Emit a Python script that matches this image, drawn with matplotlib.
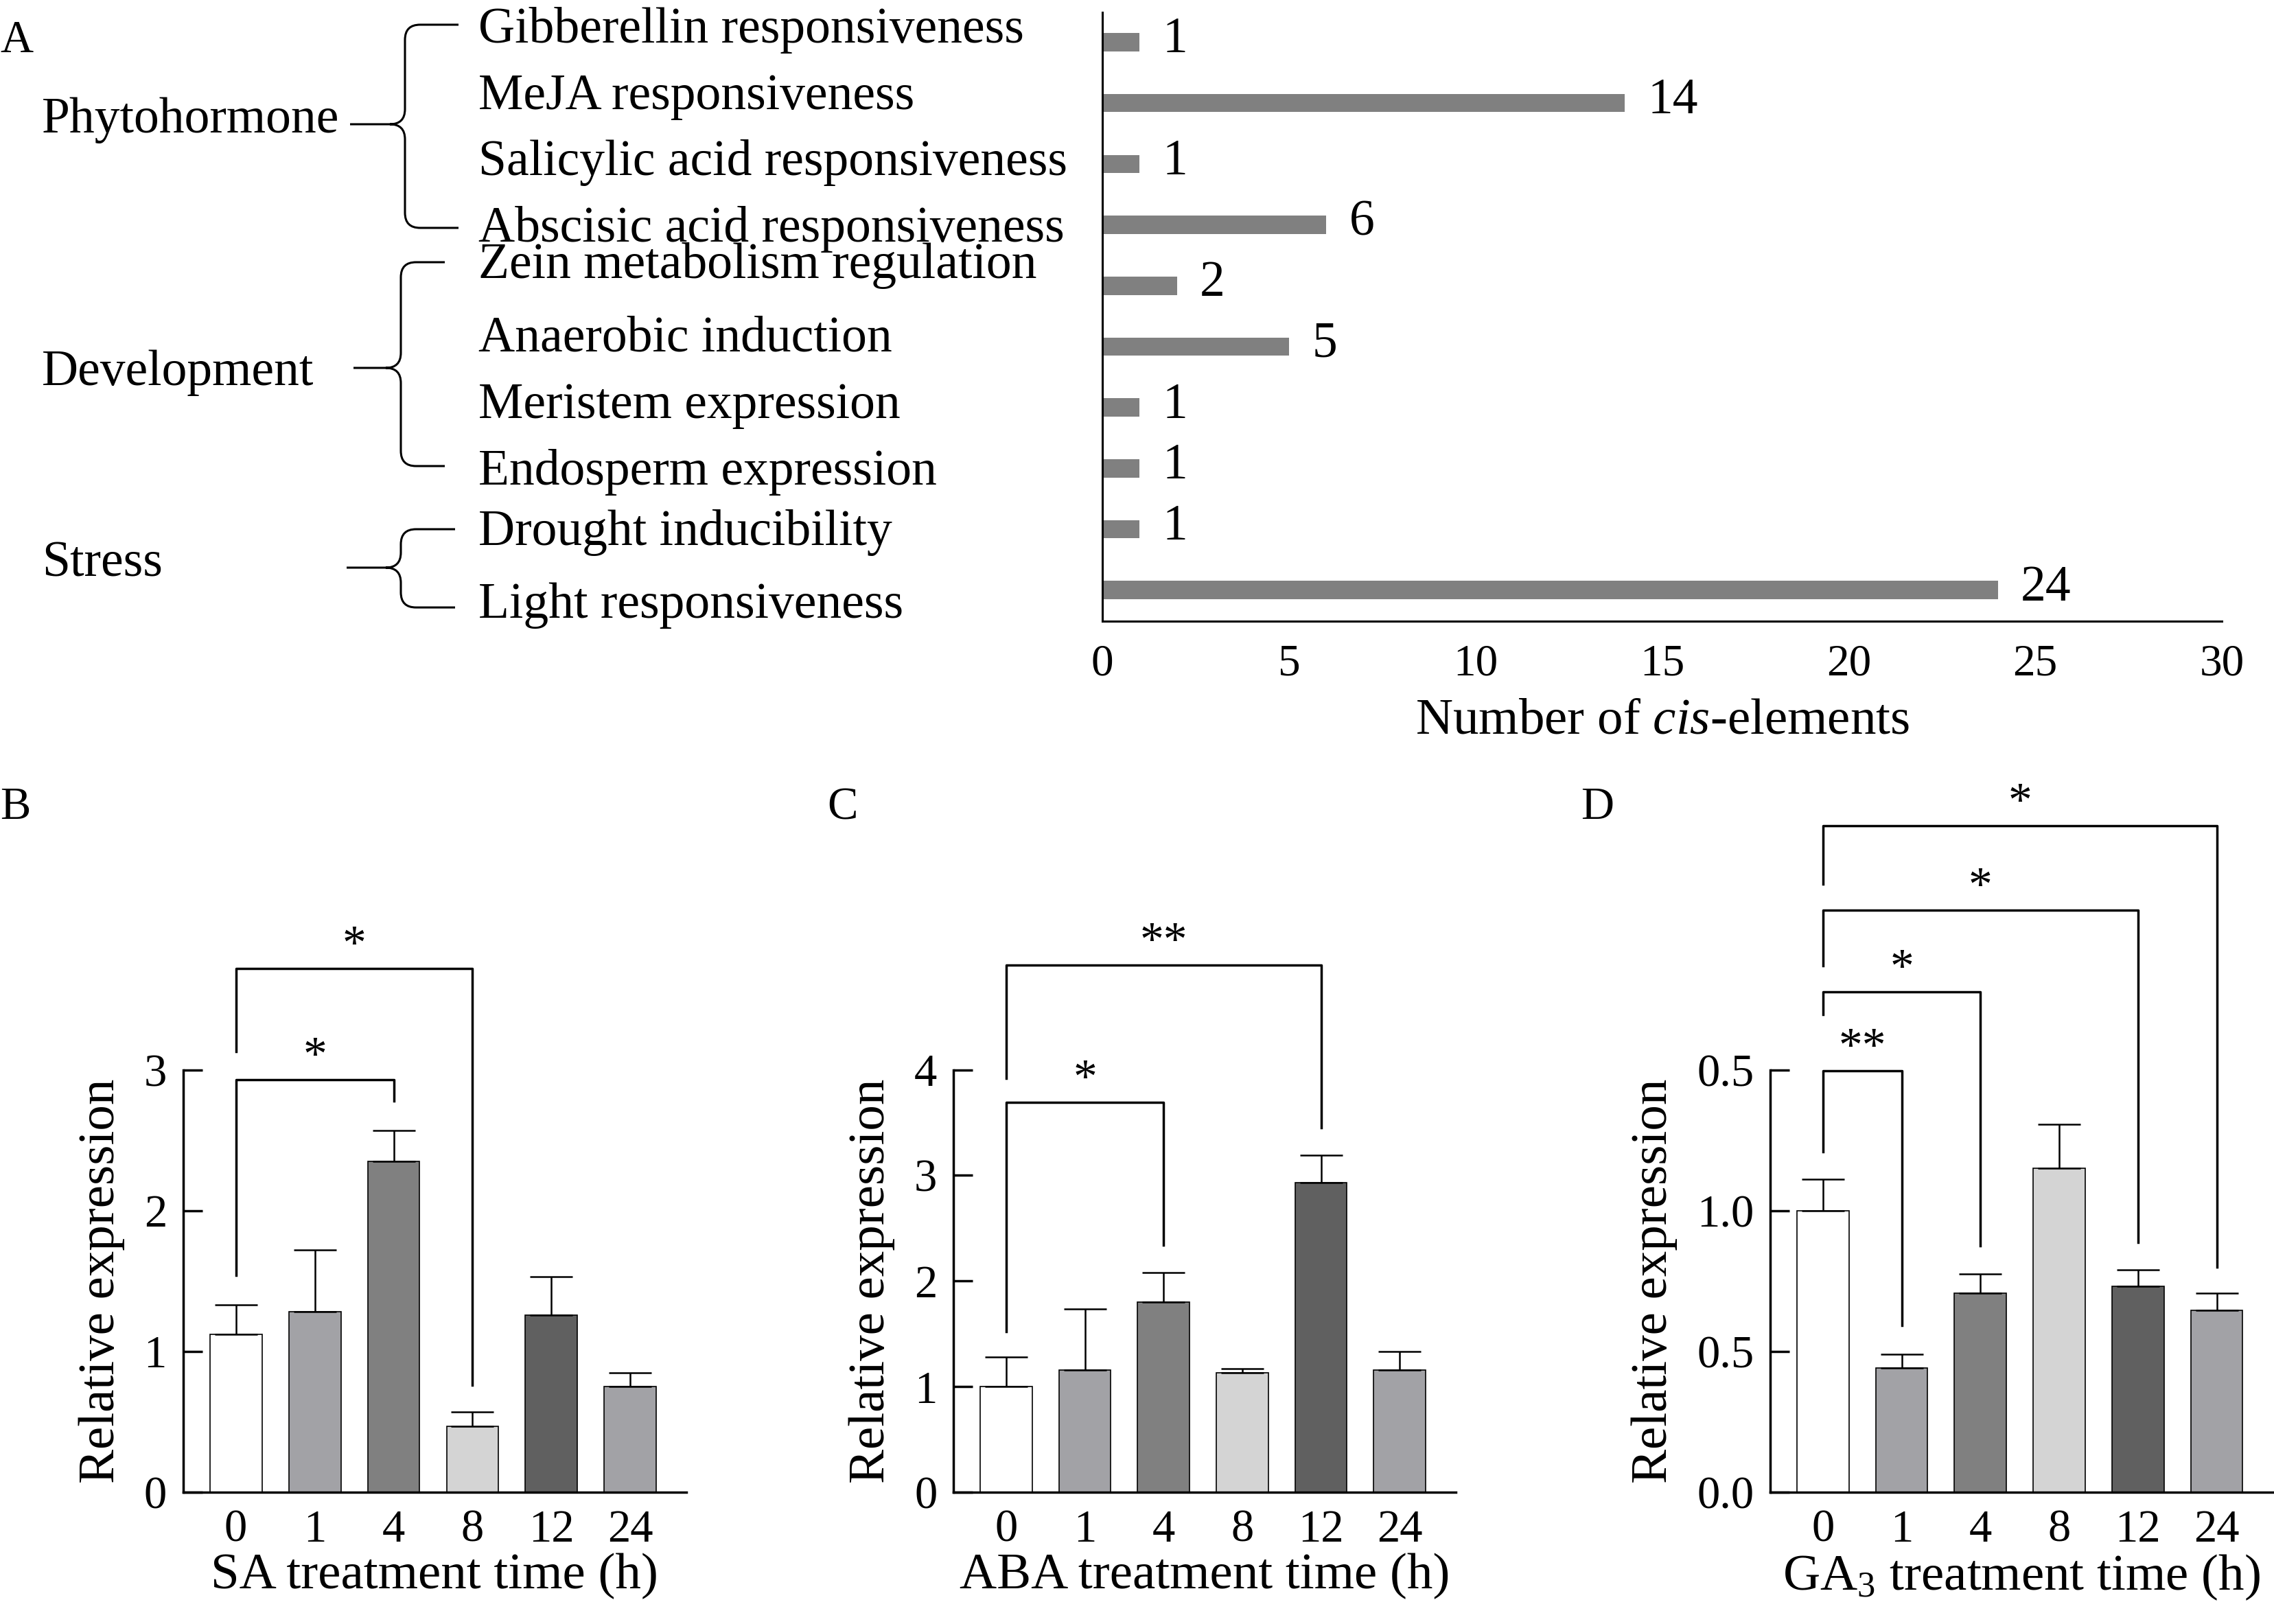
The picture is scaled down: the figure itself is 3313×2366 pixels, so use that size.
import numpy as np
import matplotlib
matplotlib.use("Agg")
import matplotlib.pyplot as plt
from matplotlib.path import Path
from matplotlib.patches import PathPatch

# ---- data ----
groups = ["Phytohormone", "Development", "Stress"]
elements = [
    "Gibberellin responsiveness",
    "MeJA responsiveness",
    "Salicylic acid responsiveness",
    "Abscisic acid responsiveness",
    "Zein metabolism regulation",
    "Anaerobic induction",
    "Meristem expression",
    "Endosperm expression",
    "Drought inducibility",
    "Light responsiveness",
]
element_counts = [1, 14, 1, 6, 2, 5, 1, 1, 1, 24]

times = ["0", "1", "4", "8", "12", "24"]
sa_mean = [1.12, 1.28, 2.35, 0.47, 1.26, 0.75]
sa_err = [0.21, 0.44, 0.22, 0.10, 0.27, 0.10]
aba_mean = [1.00, 1.155, 1.80, 1.13, 2.93, 1.155]
aba_err = [0.28, 0.58, 0.28, 0.04, 0.26, 0.18]
ga_mean = [1.00, 0.44, 0.707, 1.151, 0.731, 0.646]
ga_err = [0.112, 0.051, 0.067, 0.155, 0.059, 0.061]

bar_colors = ["#ffffff", "#a2a2a6", "#808080", "#d4d4d4", "#606060", "#a2a2a6"]

# significance brackets: (i, j, line y, left-leg bottom, right-leg bottom, label)
sa_sig = [(0, 2, 2.93, 1.54, 2.78, "*"), (0, 3, 3.72, 3.13, 0.76, "*")]
aba_sig = [(0, 2, 3.69, 1.52, 2.34, "*"), (0, 4, 4.99, 3.92, 3.45, "**")]
ga_sig = [
    (0, 1, 1.497, 1.21, 0.593, "**"),
    (0, 2, 1.776, 1.697, 0.876, "*"),
    (0, 4, 2.067, 1.87, 0.888, "*"),
    (0, 5, 2.367, 2.16, 0.80, "*"),
]

plt.rcParams["font.family"] = ["Liberation Serif", "DejaVu Serif"]
plt.rcParams["mathtext.fontset"] = "custom"
plt.rcParams["mathtext.rm"] = "Liberation Serif"
plt.rcParams["mathtext.it"] = "Liberation Serif:italic"

W, H = 3313, 2366
fig = plt.figure(figsize=(W / 100, H / 100), dpi=100)


def fx(px):
    return px / W


def fy(py):
    return 1 - py / H


def axes_px(left, top, right, bottom):
    return fig.add_axes([fx(left), fy(bottom), (right - left) / W, (bottom - top) / H])


# ---- panel A ----
axA = axes_px(1606, 18, 3237, 905)
ypos = np.arange(len(elements))
axA.barh(ypos, element_counts, height=0.3, color="#808080")
for y, v in zip(ypos, element_counts):
    axA.annotate(str(v), (v, y), xytext=(24, 2), textcoords="offset points",
                 ha="left", va="center", fontsize=53)
axA.set_xlim(0, 30)
axA.set_ylim(9.51, -0.49)
axA.set_xticks(range(0, 31, 5))
axA.set_yticks([])
axA.tick_params(axis="x", length=0, labelsize=47, pad=24)
for s in ["top", "right"]:
    axA.spines[s].set_visible(False)
for s in ["left", "bottom"]:
    axA.spines[s].set_linewidth(2.2)
axA.set_xlabel(r"Number of $\it{cis}$-elements", fontsize=54, labelpad=14)

# category labels (baselines in px)
label_base = [62, 159, 255, 352, 405, 512, 609, 706, 794, 900]
for name, yb in zip(elements, label_base):
    fig.text(fx(697), fy(yb), name, fontsize=53, va="baseline", ha="left")

group_base = [193, 561, 839]
for g, yb in zip(groups, group_base):
    fig.text(fx(61), fy(yb), g, fontsize=53, va="baseline", ha="left")


def brace(x_tip, x_mid, x_end, y_top, y_mid, y_bot, r=22):
    verts = [
        (x_end, y_top), (x_mid + r, y_top),
        (x_mid, y_top), (x_mid, y_top + r),
        (x_mid, y_mid - r),
        (x_mid, y_mid), (x_mid - r, y_mid),
        (x_tip, y_mid),
        (x_mid - r, y_mid),
        (x_mid, y_mid), (x_mid, y_mid + r),
        (x_mid, y_bot - r),
        (x_mid, y_bot), (x_mid + r, y_bot),
        (x_end, y_bot),
    ]
    codes = [Path.MOVETO, Path.LINETO, Path.CURVE3, Path.CURVE3, Path.LINETO,
             Path.CURVE3, Path.CURVE3, Path.LINETO, Path.MOVETO,
             Path.CURVE3, Path.CURVE3, Path.LINETO, Path.CURVE3, Path.CURVE3,
             Path.LINETO]
    verts = [(fx(a), fy(b)) for a, b in verts]
    fig.add_artist(PathPatch(Path(verts, codes), transform=fig.transFigure,
                             fill=False, lw=2.2, color="k"))


brace(510, 590, 668, 36, 181, 332)
brace(515, 584, 648, 382, 536, 679)
brace(505, 584, 663, 771, 827, 885)

# panel letters
fig.text(fx(0), fy(76), "A", fontsize=48, va="baseline")
fig.text(fx(0), fy(1193), "B", fontsize=48, va="baseline")
fig.text(fx(1205), fy(1193), "C", fontsize=48, va="baseline")
fig.text(fx(2303), fy(1193), "D", fontsize=48, va="baseline")


# ---- panels B-D ----
def expr_panel(ax, means, errs, sig, ylim, yticks, yticklabels, xlabel):
    x = np.arange(len(times))
    ax.bar(x, means, width=0.66, color=bar_colors, edgecolor="k", linewidth=1.2,
           yerr=[np.zeros(len(errs)), errs], capsize=22,
           error_kw=dict(elinewidth=1.8, capthick=1.8, ecolor="k"))
    ax.set_xlim(-0.67, 5.71)
    ax.set_ylim(*ylim)
    ax.set_xticks(x)
    ax.set_xticklabels(times)
    ax.set_yticks(yticks)
    ax.set_yticklabels(yticklabels)
    ax.tick_params(axis="x", length=0, labelsize=48, pad=18)
    ax.tick_params(axis="y", direction="in", length=20, width=2.5, labelsize=48, pad=17)
    for s in ["top", "right"]:
        ax.spines[s].set_visible(False)
    for s in ["left", "bottom"]:
        ax.spines[s].set_linewidth(2.5)
    ax.set_xlabel(xlabel, fontsize=54, labelpad=2)
    ax.set_ylabel("Relative expression", fontsize=54, labelpad=20)
    for i, j, yl, ya, yb, lab in sig:
        ax.plot([i, i, j, j], [ya, yl, yl, yb], color="k", lw=2.5, clip_on=False)
        ax.text((i + j) / 2, yl, lab, ha="center", va="bottom", fontsize=50)


axB = axes_px(266.6, 1558.6, 1000, 2174)
expr_panel(axB, sa_mean, sa_err, sa_sig, (0, 3), [0, 1, 2, 3], ["0", "1", "2", "3"],
           "SA treatment time (h)")

axC = axes_px(1389, 1558.6, 2120.7, 2174)
expr_panel(axC, aba_mean, aba_err, aba_sig, (0, 4), [0, 1, 2, 3, 4],
           ["0", "1", "2", "3", "4"], "ABA treatment time (h)")

axD = axes_px(2579, 1558.6, 3311, 2174)
expr_panel(axD, ga_mean, ga_err, ga_sig, (0, 1.5), [0, 0.5, 1.0, 1.5],
           ["0.0", "0.5", "1.0", "0.5"], r"GA$_3$ treatment time (h)")

fig.savefig("out.png", dpi=100)
